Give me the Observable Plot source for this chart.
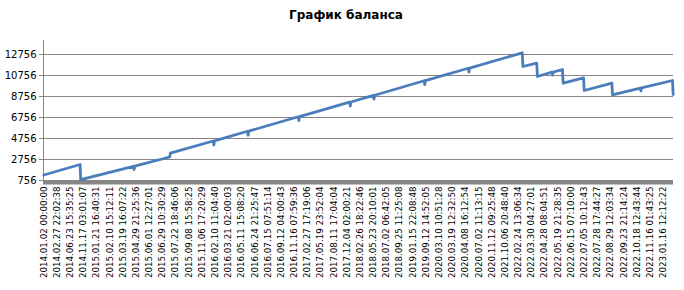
<!DOCTYPE html>
<html><head><meta charset="utf-8">
<script src="https://cdn.jsdelivr.net/npm/d3@7"></script>
<script src="https://cdn.jsdelivr.net/npm/@observablehq/plot@0.6"></script>
<style>
body{margin:0;background:#fff;}
#wrap{position:relative;width:684px;height:290px;}
#title{position:absolute;left:0;width:692px;top:8px;text-align:center;font:bold 12px "DejaVu Sans";color:#000;}
</style></head><body>
<div id="wrap"><div id="title">График баланса</div></div>
<script>
const labels = [
"2014.01.02 00:00:00","2014.02.27 22:02:38","2014.06.23 15:35:25","2014.11.17 03:01:07",
"2015.01.21 16:40:31","2015.02.10 15:12:11","2015.03.19 16:07:22","2015.04.29 21:25:36",
"2015.06.01 12:27:01","2015.06.29 10:30:29","2015.07.22 18:46:06","2015.09.08 15:58:25",
"2015.11.06 17:20:29","2016.02.10 11:04:40","2016.03.21 02:00:03","2016.05.11 15:08:20",
"2016.06.24 21:25:47","2016.07.15 07:51:14","2016.09.12 04:00:43","2016.11.16 07:59:36",
"2017.02.27 17:19:06","2017.05.19 23:52:04","2017.08.11 17:04:04","2017.12.04 02:00:21",
"2018.02.26 18:22:46","2018.05.23 20:10:01","2018.07.02 06:42:05","2018.09.25 11:25:08",
"2019.01.15 22:08:48","2019.09.12 14:52:05","2020.03.10 10:51:28","2020.03.19 12:32:50",
"2020.04.08 16:12:54","2020.07.02 11:13:15","2020.11.12 09:25:48","2021.10.06 20:48:40",
"2022.02.24 13:06:34","2022.03.30 04:27:01","2022.04.28 08:04:51","2022.05.19 21:28:35",
"2022.06.15 07:10:00","2022.07.05 10:12:43","2022.07.28 17:44:27","2022.08.29 12:03:34",
"2022.09.23 21:14:24","2022.10.18 12:43:44","2022.11.16 01:43:25","2023.01.16 12:12:22"];
const tradesPerLabel = 20;
const tradeNo = [0,55,56,136,137,138,191,192,257,258,259,309,310,311,386,387,388,
  464,465,466,500,501,502,577,578,579,644,645,646,726,727,748,749,771,772,773,787,788,
  819,820,862,863,905,906,907,954,955];
const balance = [1280,2280,832,2110,1804,2125,2994,3356,4520,4146,4535,5445,5070,5458,6825,6470,6840,
  8215,7851,8230,8865,8518,8878,10255,9899,10268,11445,11089,11458,12918,11613,11927,10661,11075,10794,11085,11327,10023,
  10537,9327,10023,8918,9560,9280,9575,10280,8946];
const yTicks = [756,2756,4756,6756,8756,10756,12756];

const data = tradeNo.map((t,i)=>({t, b: balance[i]}));
const chart = Plot.plot({
  width:684, height:290, marginLeft:43, marginRight:11, marginTop:40, marginBottom:110,
  style:{fontFamily:"DejaVu Sans", fontSize:"9px", color:"#000", background:"#fff"},
  x:{domain:[-0.5, 955.5]},
  y:{domain:[756, 14090]},
  marks:[
    Plot.gridY(yTicks, {stroke:"#868686", strokeOpacity:1, strokeWidth:1}),
    Plot.axisY(yTicks, {tickSize:4, tickPadding:3, fontSize:10, stroke:"#868686", fill:"#000", label:null, tickFormat: d => String(d)}),
    Plot.ruleX([-0.5], {stroke:"#868686", strokeWidth:1}),
    Plot.ruleY([756], {stroke:"#868686", strokeWidth:4, dy:2}),
    Plot.axisX(labels.map((_, i) => i*tradesPerLabel), {tickFormat: d => labels[d/tradesPerLabel], tickRotate:-90, tickSize:0, tickPadding:6, fontSize:8.7, fill:"#000", label:null}),
    Plot.line(data, {x:"t", y:"b", stroke:"#4A7EBB", strokeWidth:2.8})
  ]
});
document.getElementById("wrap").appendChild(chart);
</script>
</body></html>
